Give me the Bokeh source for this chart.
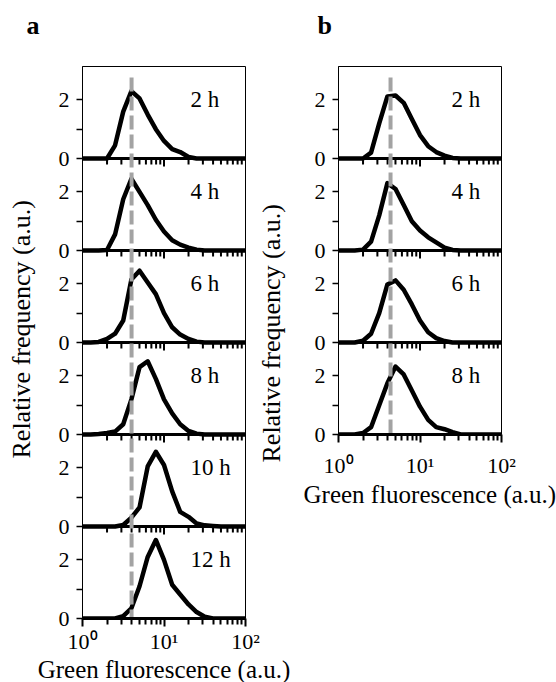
import math
from bokeh.plotting import figure
from bokeh.layouts import row
from bokeh.models import Range1d, FixedTicker, CustomJSTickFormatter, Title, LinearAxis
from bokeh.core.properties import value
from bokeh.embed import file_html
from bokeh.resources import INLINE

# ---------------- data ----------------
bins = [1.0, 1.26, 1.58, 2.0, 2.51, 3.16, 3.98, 5.01, 6.31, 7.94, 10.0,
        12.6, 15.8, 20.0, 25.1, 31.6, 39.8, 50.1, 63.1, 79.4, 100.0]

times_a = ["2 h", "4 h", "6 h", "8 h", "10 h", "12 h"]
a_02h = [0, 0, 0, 0.0, 0.45, 1.6, 2.3, 2.05, 1.5, 1.0, 0.6, 0.32, 0.22, 0.05, 0, 0, 0, 0, 0, 0, 0]
a_04h = [0, 0, 0, 0.02, 0.55, 1.75, 2.45, 2.0, 1.55, 1.05, 0.65, 0.35, 0.2, 0.1, 0.03, 0, 0, 0, 0, 0, 0]
a_06h = [0, 0, 0.02, 0.12, 0.3, 0.75, 2.15, 2.45, 2.05, 1.65, 1.0, 0.52, 0.27, 0.12, 0.03, 0, 0, 0, 0, 0, 0]
a_08h = [0, 0, 0.02, 0.05, 0.1, 0.35, 1.2, 2.3, 2.5, 1.9, 1.2, 0.72, 0.35, 0.12, 0.03, 0, 0, 0, 0, 0, 0]
a_10h = [0, 0, 0, 0, 0, 0.05, 0.3, 0.65, 2.05, 2.55, 2.1, 1.2, 0.5, 0.33, 0.1, 0.04, 0.02, 0, 0, 0, 0]
a_12h = [0, 0, 0, 0, 0, 0.08, 0.35, 1.1, 2.1, 2.68, 2.0, 1.15, 0.82, 0.48, 0.22, 0.06, 0, 0, 0, 0, 0]

times_b = ["2 h", "4 h", "6 h", "8 h"]
b_02h = [0, 0, 0, 0, 0.2, 1.2, 2.12, 2.15, 1.9, 1.35, 0.8, 0.42, 0.22, 0.1, 0.02, 0, 0, 0, 0, 0, 0]
b_04h = [0, 0, 0, 0.03, 0.3, 1.2, 2.3, 2.1, 1.55, 1.0, 0.68, 0.45, 0.28, 0.1, 0.02, 0, 0, 0, 0, 0, 0]
b_06h = [0, 0, 0, 0.06, 0.3, 1.0, 1.98, 2.12, 1.8, 1.3, 0.75, 0.35, 0.15, 0.05, 0, 0, 0, 0, 0, 0, 0]
b_08h = [0, 0, 0, 0.05, 0.25, 1.0, 1.75, 2.32, 2.05, 1.5, 0.95, 0.5, 0.25, 0.18, 0.08, 0, 0, 0, 0, 0, 0]

threshold_a = 4.0
threshold_b = 4.35

x_major = [1, 10, 100]
x_minor = [2, 3, 4, 5, 6, 7, 8, 9, 20, 30, 40, 50, 60, 70, 80, 90]
y_ticks = [0, 1, 2]
y_tick_labels = ["0", "", "2"]

x_title = "Green fluorescence (a.u.)"
y_title = "Relative frequency (a.u.)"

# ---------------- layout constants ----------------
FONT = "Liberation Serif"
P = 3.14             # data units per stacked sub-panel
PANEL_PX = 92        # pixel height of one sub-panel
FRAME_W = 163
TOP = 66
PPU = PANEL_PX / P   # pixels per y unit
TICK_FS = "22px"
NAME_FS = "23px"
YTITLE_FS = "26px"
XTITLE_FS = "25px"
LETTER_FS = "26px"

A_LEFT, A_RIGHT, A_BOTTOM = 82, 56, 0
B_LEFT, B_RIGHT, B_BOTTOM = 35, 55, 0


def spacer(px):
    return Title(text=" ", text_font_size="1px", standoff=px - 3)


def letter(text, offset):
    return Title(text=text, text_font=FONT, text_font_size=LETTER_FS,
                 text_font_style="bold", text_color="black", align="left",
                 offset=offset, standoff=0)


def stack(series, names, threshold, left, right, bottom, name_x, tick_standoff):
    n = len(series)
    p = figure(title=None, x_axis_type="log", x_range=Range1d(1, 100),
               y_range=Range1d(0, n * P), frame_width=FRAME_W,
               frame_height=n * PANEL_PX, min_border_left=left,
               min_border_right=right, min_border_top=TOP,
               min_border_bottom=bottom, output_backend="svg",
               toolbar_location=None)
    p.xgrid.visible = False
    p.ygrid.visible = False
    p.outline_line_color = "black"
    p.outline_line_width = 1
    p.background_fill_color = "white"
    p.border_fill_color = "white"

    offsets = [(n - 1 - k) * P for k in range(n)]
    for k, ys in enumerate(series):
        p.line(bins, [v + offsets[k] for v in ys], line_color="black",
               line_width=4.5, line_join="round", line_cap="round")

    # axes separating the stacked sub-panels
    for off in offsets[:-1]:
        p.segment(x0=[1], y0=[off], x1=[100], y1=[off], line_color="black",
                  line_width=3)
        p.segment(x0=x_minor, y0=[off] * len(x_minor), x1=x_minor,
                  y1=[off - 6 / PPU] * len(x_minor), line_color="black",
                  line_width=2)
        p.segment(x0=[10], y0=[off], x1=[10], y1=[off - 8 / PPU],
                  line_color="black", line_width=2)

    # dashed threshold line
    p.segment(x0=[threshold], y0=[n * P - 11 / PPU], x1=[threshold], y1=[0],
              line_color="#a3a3a3", line_width=4, line_dash="14 5")

    p.text(x=[name_x] * n, y=[off + 2 for off in offsets], text=names,
           text_font=value(FONT), text_font_size=NAME_FS, text_align="left",
           text_baseline="middle", text_color="black")

    xa = p.xaxis[0]
    xa.ticker = FixedTicker(ticks=x_major, minor_ticks=x_minor)
    xa.formatter = CustomJSTickFormatter(
        code="const s=['\\u2070','\\u00b9','\\u00b2']; return '10' + s[Math.round(Math.log10(tick))];")
    xa.axis_line_width = 3
    xa.axis_line_color = "black"
    xa.major_tick_out = 8
    xa.major_tick_in = 0
    xa.minor_tick_out = 6
    xa.minor_tick_in = 0
    xa.major_tick_line_width = 2
    xa.minor_tick_line_width = 2
    xa.major_tick_line_color = "black"
    xa.minor_tick_line_color = "black"
    xa.major_label_text_font = FONT
    xa.major_label_text_font_size = TICK_FS
    xa.major_label_text_color = "black"
    xa.major_label_standoff = tick_standoff
    xa.axis_label_text_font = FONT
    xa.axis_label_text_font_size = XTITLE_FS
    xa.axis_label_text_font_style = "normal"
    xa.axis_label_text_color = "black"

    ticks = []
    labs = []
    for off in sorted(offsets):
        for t, lab in zip(y_ticks, y_tick_labels):
            ticks.append(off + t)
            labs.append(lab)
    ya = p.yaxis[0]
    ya.ticker = FixedTicker(ticks=ticks, minor_ticks=[])
    ya.formatter = CustomJSTickFormatter(
        args=dict(T=ticks, L=labs),
        code="let b=0; for (let i=0;i<T.length;i++){ if (Math.abs(T[i]-tick) < Math.abs(T[b]-tick)) b=i; } return L[b];")
    ya.axis_line_width = 1
    ya.axis_line_color = "black"
    ya.major_tick_out = 6
    ya.major_tick_in = 0
    ya.major_tick_line_width = 1.5
    ya.major_tick_line_color = "black"
    ya.minor_tick_line_color = None
    ya.major_label_text_font = FONT
    ya.major_label_text_font_size = TICK_FS
    ya.major_label_text_color = "black"
    ya.major_label_standoff = 7
    return p


def side_title(text, size, **kw):
    return Title(text=text, text_font=FONT, text_font_size=size,
                 text_font_style="normal", text_color="black", **kw)


# ---------------- panel a ----------------
pa = stack([a_02h, a_04h, a_06h, a_08h, a_10h, a_12h], times_a, threshold_a,
           A_LEFT, A_RIGHT, A_BOTTOM, 21.1, 2)
pa.xaxis[0].axis_label = x_title
pa.xaxis[0].axis_label_standoff = -1
pa.add_layout(spacer(20), "left")
pa.add_layout(side_title(y_title, YTITLE_FS, align="left", offset=160,
                         standoff=0), "left")
pa.add_layout(spacer(27), "above")
pa.add_layout(letter("a", -56), "above")

# y title of panel b lives in the right margin of panel a; the label is
# anchored at the lower end of that margin and lifted with no-break spaces
pad = "\u00a0" * 24
rax = LinearAxis(ticker=FixedTicker(ticks=[]), axis_label=pad + y_title,
                 axis_label_orientation=math.pi / 2, axis_label_standoff=26,
                 axis_line_color=None, major_tick_line_color=None,
                 minor_tick_line_color=None, major_tick_out=0, minor_tick_out=0,
                 major_tick_in=0, minor_tick_in=0, major_label_standoff=0,
                 major_label_text_font_size="0px",
                 axis_label_text_font=FONT, axis_label_text_font_size=YTITLE_FS,
                 axis_label_text_font_style="normal",
                 axis_label_text_color="black")
try:
    rax.axis_label_align = "start"
except Exception:
    rax.axis_label_align = "left"
pa.add_layout(rax, "right")

# ---------------- panel b ----------------
pb = stack([b_02h, b_04h, b_06h, b_08h], times_b, threshold_b,
           B_LEFT, B_RIGHT, B_BOTTOM, 24.4, 10)
pb.add_layout(side_title(x_title, XTITLE_FS, align="left", offset=-35,
                         vertical_align="top", standoff=0), "below")
pb.add_layout(spacer(27), "above")
pb.add_layout(letter("b", -21), "above")

layout = row(pa, pb)
with open("out.html", "w", encoding="utf-8") as f:
    f.write(file_html(layout, INLINE))
